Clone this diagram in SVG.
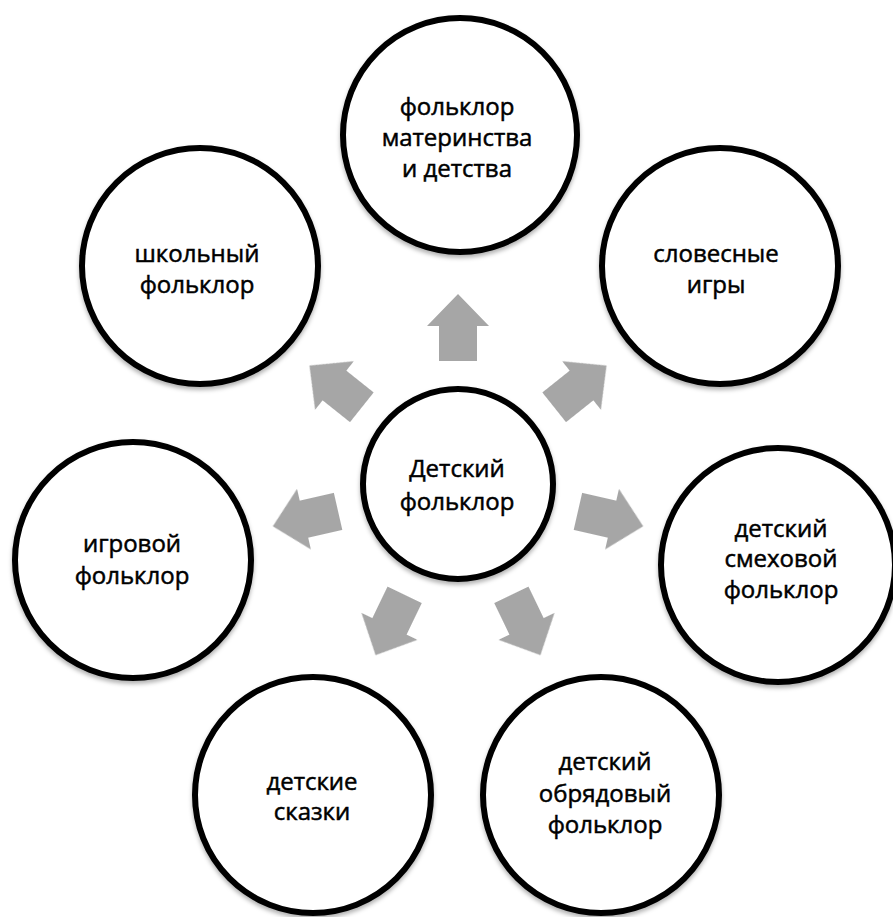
<svg xmlns="http://www.w3.org/2000/svg" width="893" height="917" viewBox="0 0 893 917">
  <defs>
    <filter id="shadow" x="-20%" y="-20%" width="140%" height="140%">
      <feDropShadow dx="0" dy="3" stdDeviation="2" flood-color="#000" flood-opacity="0.3"/>
    </filter>
    <filter id="soft" x="-20%" y="-20%" width="140%" height="140%">
      <feGaussianBlur stdDeviation="0.6"/>
    </filter>
    <polygon id="arr" points="123,-19 158,-19 158,-31 190,0 158,31 158,19 123,19"/>
  </defs>
  <style>
    .node { fill: #ffffff; stroke: #000000; stroke-width: 6; filter: url(#shadow); }
    .lbl { font-family: "Open Sans", "Noto Sans", "DejaVu Sans", sans-serif; font-size: 24px; fill: #000000; stroke: #000000; stroke-width: 0.5; text-anchor: middle; }
    .arrow { fill: #a6a6a6; filter: url(#soft); }
  </style>
  <rect width="893" height="917" fill="#ffffff"/>

  <g id="connectors">
    <g transform="translate(458,484)">
      <use href="#arr" class="arrow" transform="rotate(-90)"/>
      <use href="#arr" class="arrow" transform="rotate(-38.57)"/>
      <use href="#arr" class="arrow" transform="rotate(12.86)"/>
      <use href="#arr" class="arrow" transform="rotate(64.29)"/>
      <use href="#arr" class="arrow" transform="rotate(115.71)"/>
      <use href="#arr" class="arrow" transform="rotate(167.14)"/>
      <use href="#arr" class="arrow" transform="rotate(-141.43)"/>
    </g>
  </g>

  <g id="center">
    <circle class="node" cx="458" cy="484" r="95"/>
    <text class="lbl" x="457" y="477">Детский</text>
    <text class="lbl" x="457" y="510">фольклор</text>
  </g>

  <g id="top">
    <circle class="node" cx="460" cy="135" r="117"/>
    <text class="lbl" x="457" y="115">фольклор</text>
    <text class="lbl" x="457" y="146">материнства</text>
    <text class="lbl" x="457" y="177">и детства</text>
  </g>

  <g id="top-right">
    <circle class="node" cx="720" cy="266" r="118"/>
    <text class="lbl" x="716" y="262">словесные</text>
    <text class="lbl" x="716" y="293">игры</text>
  </g>

  <g id="right">
    <circle class="node" cx="778" cy="565" r="117"/>
    <text class="lbl" x="781" y="537">детский</text>
    <text class="lbl" x="781" y="567">смеховой</text>
    <text class="lbl" x="781" y="598">фольклор</text>
  </g>

  <g id="bottom-right">
    <circle class="node" cx="601" cy="795" r="118"/>
    <text class="lbl" x="605" y="770">детский</text>
    <text class="lbl" x="605" y="802">обрядовый</text>
    <text class="lbl" x="605" y="833">фольклор</text>
  </g>

  <g id="bottom-left">
    <circle class="node" cx="313" cy="795" r="118"/>
    <text class="lbl" x="312" y="790">детские</text>
    <text class="lbl" x="312" y="820">сказки</text>
  </g>

  <g id="left">
    <circle class="node" cx="133" cy="560" r="118"/>
    <text class="lbl" x="132" y="552">игровой</text>
    <text class="lbl" x="132" y="584">фольклор</text>
  </g>

  <g id="top-left">
    <circle class="node" cx="200" cy="266" r="118"/>
    <text class="lbl" x="197" y="262">школьный</text>
    <text class="lbl" x="197" y="293">фольклор</text>
  </g>
</svg>
